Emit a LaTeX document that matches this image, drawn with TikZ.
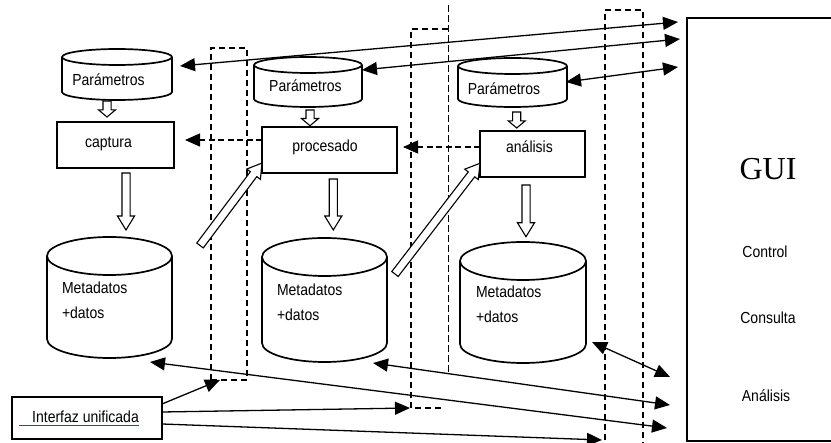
\documentclass[tikz,border=0pt]{standalone}
\usepackage{fontspec}
\usetikzlibrary{arrows.meta,calc,shapes.arrows}
\newfontfamily\sansf[FakeStretch=0.875]{Liberation Sans}
\newfontfamily\serff{Liberation Serif}
\definecolor{ulteal}{RGB}{0,102,102}

% hollow block arrow from a named tail point to a named tip point
\newcommand{\hollowarrow}[4][63]{%
  \path let \p1=($(#4)-(#3)$), \n1={atan2(\y1,\x1)}, \n2={veclen(\x1,\y1)} in
    (#3) node[hollow, single arrow tip angle=#1, rotate=\n1, minimum height=\n2, anchor=tail] (#2) {};
}

\tikzset{
  box/.style={draw, line width=1.4pt, inner sep=0pt, outer sep=0pt},
  holder/.style={inner sep=0pt, outer sep=0pt},
  lbl/.style={font=\sansf\fontsize{16}{18}\selectfont, inner sep=0pt, outer sep=0pt},
  cylline/.style={line width=1.7pt, line join=round},
  link/.style={line width=1.3pt, >={Triangle[length=15pt,width=13pt]}},
  dlink/.style={link, dash pattern=on 6pt off 3.5pt},
  zone/.style={line width=1.5pt, dash pattern=on 6pt off 4pt},
  thinzone/.style={line width=0.8pt, dash pattern=on 7pt off 3pt},
  hollow/.style={single arrow, draw, fill=white, line width=1.1pt, inner xsep=0pt,
    inner ysep=3.5pt, minimum width=0pt, outer sep=0pt, single arrow head extend=4.5pt},
  pics/drum/.style n args={3}{code={
    \draw[cylline] (0,#2/2-#3) ellipse [x radius=#1/2, y radius=#3];
    \draw[cylline] (-#1/2,#2/2-#3) -- (-#1/2,-#2/2+#3)
      arc [start angle=180, end angle=360, x radius=#1/2, y radius=#3] -- (#1/2,#2/2-#3);
  }},
}

\begin{document}
\begin{tikzpicture}[x=1pt,y=1pt]
\useasboundingbox (0,0) rectangle (831,-443);

% ---- dashed separation zones ----
\node[holder, draw, zone, minimum width=36, minimum height=332] (r1) at (229,-214) {};
\node[holder, minimum width=37, minimum height=379] (r2) at (429.5,-218.5) {};
\draw[zone] (r2.north east) -- (r2.north west) -- (r2.south west) -- ($(r2.south east)+(-4,0)$);
\draw[thinzone] ($(r2.north east)+(0,24)$) -- ($(r2.south east)+(0,33)$);
\node[holder, draw, zone, minimum width=38, minimum height=440] (r3) at (624,-230) {};

% ---- parameter stores ----
\node[holder, minimum width=110, minimum height=51] (p1) at (117,-74.5) {};
\pic at (p1) {drum={110}{51}{8}};
\node[lbl, anchor=base] (p1-t) at (108.5,-86) {Parámetros};

\node[holder, minimum width=108, minimum height=50] (p2) at (308,-82) {};
\pic at (p2) {drum={108}{50}{8}};
\node[lbl, anchor=base] (p2-t) at (305.4,-91.7) {Parámetros};

\node[holder, minimum width=109, minimum height=49] (p3) at (512.5,-82.5) {};
\pic at (p3) {drum={109}{49}{8}};
\node[lbl, anchor=base] (p3-t) at (504,-95) {Parámetros};

% ---- processing stages ----
\node[box, minimum width=117, minimum height=46] (capt) at (115.5,-145) {};
\node[lbl, anchor=base] (capt-t) at (108.5,-147.7) {captura};

\node[box, minimum width=135, minimum height=46] (proc) at (329.5,-150) {};
\node[lbl, anchor=base] (proc-t) at (325,-151.7) {procesado};

\node[box, minimum width=105, minimum height=46] (anal) at (532.5,-154) {};
\node[lbl, anchor=base] (anal-t) at (529.5,-152.7) {análisis};

% ---- data stores ----
\node[holder, minimum width=125, minimum height=121] (m1) at (109.5,-297.5) {};
\pic at (m1) {drum={125}{121}{19}};
\node[lbl, anchor=base west] (m1-a) at (62,-294) {Metadatos};
\node[lbl, anchor=base west] (m1-b) at (62,-319) {+datos};

\node[holder, minimum width=125, minimum height=124] (m2) at (324.5,-300) {};
\pic at (m2) {drum={125}{124}{19}};
\node[lbl, anchor=base west] (m2-a) at (277,-296) {Metadatos};
\node[lbl, anchor=base west] (m2-b) at (277,-321) {+datos};

\node[holder, minimum width=126, minimum height=121] (m3) at (523,-302.5) {};
\pic at (m3) {drum={126}{121}{19}};
\node[lbl, anchor=base west] (m3-a) at (476,-298) {Metadatos};
\node[lbl, anchor=base west] (m3-b) at (476,-323) {+datos};

% ---- user interface ----
\node[box, line width=1.3pt, minimum width=213, minimum height=423] (gui) at (793.5,-229.5) {};
\node[lbl, font=\serff\fontsize{32}{36}\selectfont, anchor=base] (gui-t) at (768,-180) {GUI};
\node[lbl, anchor=base] (gui-c) at (765,-257.7) {Control};
\node[lbl, anchor=base] (gui-q) at (768,-324) {Consulta};
\node[lbl, anchor=base] (gui-a) at (766,-402) {Análisis};

\node[box, minimum width=150, minimum height=42] (ifz) at (87,-418) {};
\node[lbl, anchor=base] (ifz-t) at (85.5,-422.3) {Interfaz unificada};
\draw[ulteal, line width=0.9pt] ($(ifz-t.base west)+(-13,-2.7)$) -- ($(ifz-t.base east)+(0,-2.7)$);

% ---- hollow flow arrows ----
\coordinate (h1s) at ($(p1.south)+(-10,-1)$);   \coordinate (h1e) at ($(capt.north)+(-8.5,5)$);
\coordinate (h2s) at ($(p2.south)+(2,-3)$);     \coordinate (h2e) at ($(proc.north)+(-19.5,1.3)$);
\coordinate (h3s) at ($(p3.south)+(4.2,-5)$);   \coordinate (h3e) at ($(anal.north)+(-15.8,3)$);
\coordinate (h4s) at ($(capt.south)+(10.5,-5)$); \coordinate (h4e) at ($(m1.north)+(16.5,7)$);
\coordinate (h5s) at ($(proc.south)+(3.8,-6)$);  \coordinate (h5e) at ($(m2.north)+(8.8,8)$);
\coordinate (h6s) at ($(anal.south)+(-6.5,-8)$); \coordinate (h6e) at ($(m3.north)+(3,5.3)$);
\coordinate (h7s) at (200,-245.5);               \coordinate (h7e) at ($(proc.south west)+(0,10)$);
\coordinate (h8s) at (395,-274);                 \coordinate (h8e) at ($(anal.south west)+(0,13.7)$);

\hollowarrow[100]{ha1}{h1s}{h1e}
\hollowarrow[100]{ha2}{h2s}{h2e}
\hollowarrow[100]{ha3}{h3s}{h3e}
\hollowarrow{ha4}{h4s}{h4e}
\hollowarrow{ha5}{h5s}{h5e}
\hollowarrow{ha6}{h6s}{h6e}
\hollowarrow{ha7}{h7s}{h7e}
\hollowarrow{ha8}{h8s}{h8e}

% ---- control flow between stages ----
\draw[dlink,->] ($(proc.west)+(0,10)$) -- ($(capt.east)+(11,5)$);
\draw[dlink,->] ($(anal.west)+(0,7)$) -- ($(proc.east)+(6,3)$);

% ---- links with the GUI ----
\draw[link,<->] ($(p1.east)+(8,8.5)$) -- ($(gui.north west)+(-9,-4)$);
\draw[link,<->] ($(p2.east)+(0,12)$) -- ($(gui.north west)+(-7,-21)$);
\draw[link,<->] ($(p3.east)+(-1,0.5)$) -- ($(gui.north west)+(-9,-49)$);
\draw[link,<->] ($(m3.south east)+(6,21)$) -- ($(gui.north west)+(-17,-359)$);
\draw[link,<->] ($(m2.south east)+(-14,-1)$) -- ($(gui.north west)+(-17,-387)$);
\draw[link,<->] ($(m1.south)+(40.5,-4)$) -- ($(gui.north west)+(-20,-410)$);

% ---- unified interface to each zone ----
\draw[link,->] ($(ifz.north east)+(0,-7)$) -- ($(r1.south)+(-9,0)$);
\draw[link,->] ($(ifz.east)+(0,6)$) -- ($(r2.south west)+(-1,0)$);
\draw[link,->] ($(ifz.east)+(0,-6)$) -- ($(r3.north west)+(-3,-430)$);
\end{tikzpicture}
\end{document}
